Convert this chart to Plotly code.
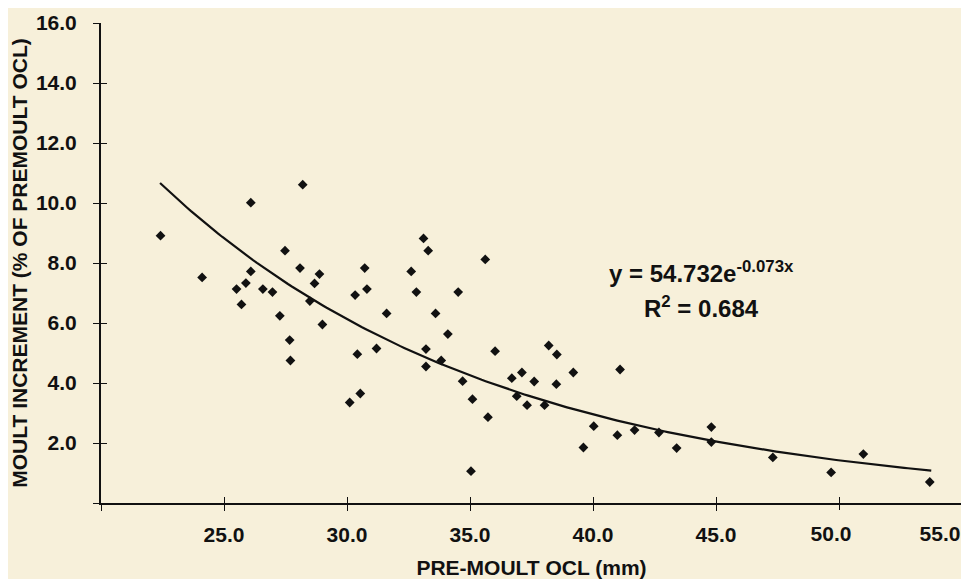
import math
import plotly.graph_objects as go

# Observed data: pre-moult OCL (mm) vs moult increment (% of premoult OCL)
pre_moult_ocl = [22.42, 24.11, 26.09, 28.20, 27.48, 26.09, 25.89, 25.51, 25.71, 26.58,
                 26.97, 28.09, 28.88, 28.68, 28.49, 27.27, 29.00, 27.67, 27.70, 33.11,
                 33.30, 30.72, 32.61, 30.81, 30.33, 32.82, 34.52, 31.61, 33.60, 34.10,
                 31.20, 30.42, 33.21, 33.83, 33.21, 30.54, 30.11, 34.70, 35.10, 35.62,
                 36.02, 38.20, 38.53, 37.11, 36.70, 37.61, 39.20, 38.51, 41.10, 36.90,
                 37.32, 38.03, 35.73, 40.03, 40.99, 41.69, 42.68, 39.61, 35.04, 43.40,
                 44.81, 44.81, 47.31, 49.68, 50.99, 53.69]
moult_increment = [8.91, 7.52, 10.01, 10.61, 8.41, 7.72, 7.33, 7.13, 6.62, 7.13,
                   7.03, 7.83, 7.63, 7.32, 6.73, 6.24, 5.95, 5.43, 4.75, 8.82,
                   8.41, 7.83, 7.72, 7.13, 6.93, 7.03, 7.03, 6.32, 6.32, 5.63,
                   5.15, 4.96, 5.13, 4.75, 4.55, 3.65, 3.35, 4.06, 3.46, 8.12,
                   5.06, 5.25, 4.95, 4.35, 4.16, 4.05, 4.35, 3.96, 4.45, 3.56,
                   3.26, 3.26, 2.86, 2.56, 2.26, 2.43, 2.35, 1.85, 1.06, 1.83,
                   2.53, 2.03, 1.52, 1.02, 1.63, 0.70]

# Exponential fit shown on the chart
fit_a = 54.732
fit_b = -0.073
fit_x_start = 22.4
fit_x_end = 53.75
fit_r2 = 0.684

x_tick_vals = [20, 25, 30, 35, 40, 45, 50, 55]
x_tick_text_main = ["", "25.0", "30.0", "35.0", "40.0", "45.0"]
x_tick_val_50 = [50]
x_tick_text_50 = ["50.0"]
x_tick_val_55 = [55]
x_tick_text_55 = ["55.0"]
y_tick_vals = [0, 2, 4, 6, 8, 10, 12, 14, 16]
y_tick_text = ["", "2.0", "4.0", "6.0", "8.0", "10.0", "12.0", "14.0", "16.0"]

n = 200
fit_x = [fit_x_start + (fit_x_end - fit_x_start) * i / (n - 1) for i in range(n)]
fit_y = [fit_a * math.exp(fit_b * v) for v in fit_x]

BG = "#F7F0DA"
FONT = "Liberation Sans, Arial, sans-serif"
INK = "#111111"

fig = go.Figure()
fig.add_trace(go.Scatter(x=fit_x, y=fit_y, mode="lines",
                         line=dict(color=INK, width=2.2),
                         showlegend=False, hoverinfo="skip"))
fig.add_trace(go.Scatter(x=pre_moult_ocl, y=moult_increment, mode="markers",
                         marker=dict(symbol="diamond", size=7.5, color=INK),
                         showlegend=False))
# dummy traces for overlay axes
for xa, ya in (("x2", "y2"), ("x3", "y"), ("x4", "y")):
    fig.add_trace(go.Scatter(x=[None], y=[None], xaxis=xa, yaxis=ya,
                             showlegend=False, hoverinfo="skip"))

axis_font = dict(family=FONT, size=21, color=INK, weight="bold")
plain = dict(showline=False, showgrid=False, zeroline=False, automargin=False)

fig.update_layout(
    width=961, height=571,
    margin=dict(l=93, r=7, t=15, b=76, autoexpand=False),
    paper_bgcolor=BG, plot_bgcolor=BG,
    font=dict(family=FONT, size=21, color=INK, weight="bold"),
    xaxis=dict(range=[20, 55], tickvals=x_tick_vals[:6], ticktext=x_tick_text_main,
               ticks="outside", ticklen=6, tickwidth=1.3, tickcolor=INK,
               showline=True, linecolor=INK, linewidth=2,
               showgrid=False, zeroline=False, tickfont=axis_font,
               ticklabelstandoff=6, automargin=False,
               title=dict(text="PRE-MOULT OCL (mm)", font=axis_font, standoff=16)),
    xaxis3=dict(range=[20, 55], overlaying="x", anchor="y", side="bottom",
                tickvals=x_tick_val_50, ticktext=x_tick_text_50,
                ticks="outside", ticklen=6, tickwidth=1.3, tickcolor=INK,
                tickfont=axis_font, ticklabelstandoff=6, ticklabelshift=-8,
                ticklabeloverflow="allow", **plain),
    xaxis4=dict(range=[20, 55], overlaying="x", anchor="y", side="bottom",
                tickvals=x_tick_val_55, ticktext=x_tick_text_55,
                ticks="outside", ticklen=6, tickwidth=1.3, tickcolor=INK,
                tickfont=axis_font, ticklabelstandoff=6, ticklabelshift=-22,
                ticklabeloverflow="allow", **plain),
    yaxis=dict(range=[0, 16], tickvals=y_tick_vals, ticktext=y_tick_text,
               ticks="outside", ticklen=6, tickwidth=1.3, tickcolor=INK,
               showline=True, linecolor=INK, linewidth=2,
               showgrid=False, zeroline=False, tickfont=axis_font,
               ticklabelstandoff=12, automargin=False,
               title=dict(text="MOULT INCREMENT (% OF PREMOULT OCL)", font=axis_font, standoff=21)),
    xaxis2=dict(range=[20, 55], overlaying="x", anchor="y2", side="bottom",
                tickvals=x_tick_vals, ticks="inside", ticklen=6, tickwidth=1.3,
                tickcolor=INK, showticklabels=False, **plain),
    yaxis2=dict(range=[0, 16], overlaying="y", anchor="x2", side="left",
                tickvals=y_tick_vals, ticks="inside", ticklen=6, tickwidth=1.3,
                tickcolor=INK, showticklabels=False, **plain),
    annotations=[
        dict(x=44.4, y=7.69, xref="x", yref="y", showarrow=False,
             text="y = %.3fe<sup>%.3fx</sup>" % (fit_a, fit_b),
             font=dict(family=FONT, size=24, color=INK, weight="bold")),
        dict(x=44.4, y=6.52, xref="x", yref="y", showarrow=False,
             text="R<sup>2</sup> = %.3f" % fit_r2,
             font=dict(family=FONT, size=24, color=INK, weight="bold")),
    ],
)

fig.write_html("out.html")
